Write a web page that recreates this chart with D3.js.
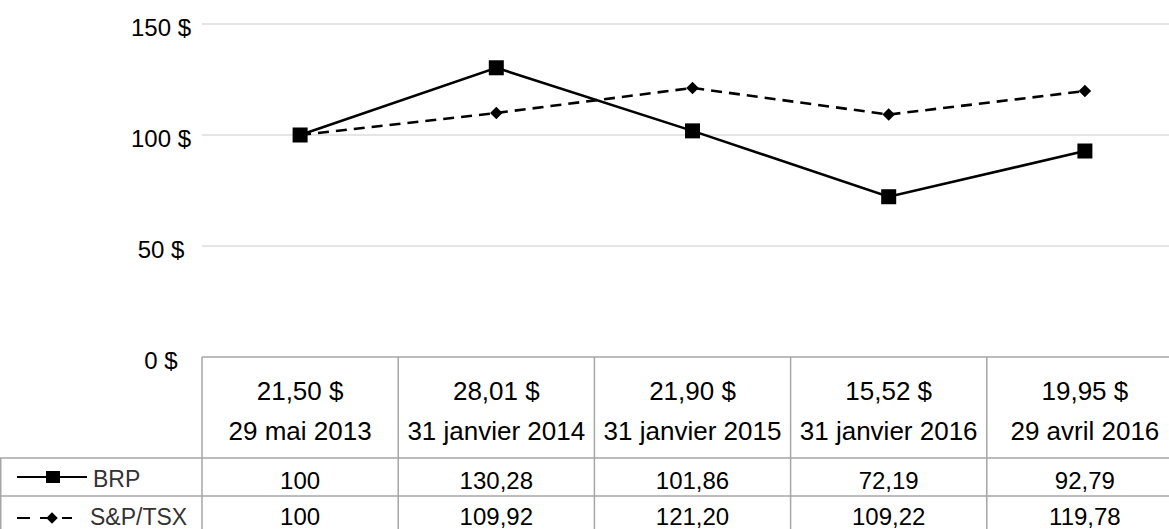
<!DOCTYPE html>
<html>
<head>
<meta charset="utf-8">
<script src="https://cdn.jsdelivr.net/npm/d3@7"></script>
<style>
  body { margin: 0; background: #fff; }
  svg { font-family: "Liberation Sans", Arial, sans-serif; }
</style>
</head>
<body>
<svg id="chart" width="1169" height="529"></svg>
<script>
// data
var dates = ["29 mai 2013", "31 janvier 2014", "31 janvier 2015", "31 janvier 2016", "29 avril 2016"];
var prices = ["21,50 $", "28,01 $", "21,90 $", "15,52 $", "19,95 $"];
var brp = [100, 130.28, 101.86, 72.19, 92.79];
var tsx = [100, 109.92, 121.20, 109.22, 119.78];
var brpLabels = ["100", "130,28", "101,86", "72,19", "92,79"];
var tsxLabels = ["100", "109,92", "121,20", "109,22", "119,78"];
var yTicks = [0, 50, 100, 150];

var svg = d3.select("#chart");

var left = 202, right = 1183;
var x = d3.scaleBand().domain(dates).range([left, right]);
var y = d3.scaleLinear().domain([0, 150]).range([357, 24]);

// grid
svg.append("g")
  .selectAll("line")
  .data(yTicks.filter(d => d > 0))
  .enter()
  .append("line")
  .attr("x1", left).attr("x2", 1169)
  .attr("y1", d => y(d)).attr("y2", d => y(d))
  .attr("stroke", "#dcdcdc")
  .attr("stroke-width", 1.5);

svg.append("g")
  .selectAll("text")
  .data(yTicks)
  .enter()
  .append("text")
  .attr("x", 161)
  .attr("y", d => y(d) + 12)
  .attr("text-anchor", "middle")
  .attr("font-size", 24)
  .attr("fill", "#000")
  .text(d => d + " $");

// lines
var cx = d => x(d) + x.bandwidth() / 2;

var line = d3.line().x((d, i) => cx(dates[i])).y(d => y(d));

svg.append("path")
  .datum(tsx)
  .attr("d", line)
  .attr("fill", "none")
  .attr("stroke", "#000")
  .attr("stroke-width", 2.6)
  .attr("stroke-dasharray", "11,7");

svg.append("path")
  .datum(brp)
  .attr("d", line)
  .attr("fill", "none")
  .attr("stroke", "#000")
  .attr("stroke-width", 2.6);

svg.append("g")
  .selectAll("path")
  .data(tsx)
  .enter()
  .append("path")
  .attr("transform", (d, i) => "translate(" + cx(dates[i]) + "," + y(d) + ")")
  .attr("d", d3.symbol(d3.symbolDiamond2, 100))
  .attr("fill", "#000");

svg.append("g")
  .selectAll("rect")
  .data(brp)
  .enter()
  .append("rect")
  .attr("x", (d, i) => cx(dates[i]) - 7.5)
  .attr("y", d => y(d) - 7.5)
  .attr("width", 15).attr("height", 15)
  .attr("fill", "#000");

// table
var rowTop = 357, headBottom = 458, row1Bottom = 496;
var grid = svg.append("g").attr("stroke", "#a6a6a6").attr("stroke-width", 1.5);

grid.append("line").attr("x1", left).attr("x2", 1169).attr("y1", rowTop).attr("y2", rowTop);
grid.append("line").attr("x1", 0).attr("x2", 1169).attr("y1", headBottom).attr("y2", headBottom);
grid.append("line").attr("x1", 0).attr("x2", 1169).attr("y1", row1Bottom).attr("y2", row1Bottom);
grid.append("line").attr("x1", 0.75).attr("x2", 0.75).attr("y1", headBottom).attr("y2", 529);
grid.selectAll(".col")
  .data(dates)
  .enter()
  .append("line")
  .attr("x1", d => x(d)).attr("x2", d => x(d))
  .attr("y1", rowTop).attr("y2", 529);

var cells = svg.append("g").attr("text-anchor", "middle").attr("fill", "#000");

cells.selectAll(".price")
  .data(prices)
  .enter()
  .append("text")
  .attr("x", (d, i) => cx(dates[i]))
  .attr("y", 400)
  .attr("font-size", 26)
  .text(d => d);

cells.selectAll(".date")
  .data(dates)
  .enter()
  .append("text")
  .attr("x", d => cx(d))
  .attr("y", 440)
  .attr("font-size", 26)
  .text(d => d);

cells.selectAll(".brp")
  .data(brpLabels)
  .enter()
  .append("text")
  .attr("x", (d, i) => cx(dates[i]))
  .attr("y", 489)
  .attr("font-size", 24)
  .text(d => d);

cells.selectAll(".tsx")
  .data(tsxLabels)
  .enter()
  .append("text")
  .attr("x", (d, i) => cx(dates[i]))
  .attr("y", 525)
  .attr("font-size", 24)
  .text(d => d);

// legend keys
var lg = svg.append("g");
lg.append("line").attr("x1", 17).attr("x2", 87).attr("y1", 477).attr("y2", 477)
  .attr("stroke", "#000").attr("stroke-width", 2.2);
lg.append("rect").attr("x", 46).attr("y", 471).attr("width", 14).attr("height", 12).attr("fill", "#000");
lg.append("text").attr("x", 93).attr("y", 487).attr("font-size", 23).attr("fill", "#333").text("BRP");

lg.append("line").attr("x1", 17).attr("x2", 72).attr("y1", 518).attr("y2", 518)
  .attr("stroke", "#000").attr("stroke-width", 2.2).attr("stroke-dasharray", "13,10,17,5,10,100");
lg.append("path").attr("transform", "translate(52,518)")
  .attr("d", d3.symbol(d3.symbolDiamond2, 85)).attr("fill", "#000");
lg.append("text").attr("x", 90).attr("y", 525).attr("font-size", 23).attr("fill", "#333").text("S&P/TSX");
</script>
</body>
</html>
